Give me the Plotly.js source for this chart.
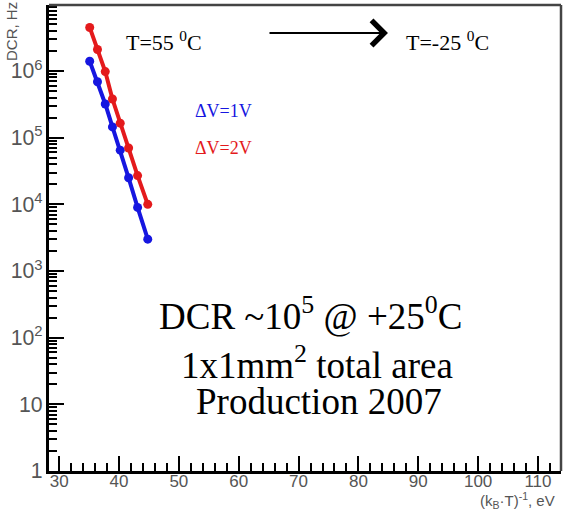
<!DOCTYPE html>
<html><head><meta charset="utf-8">
<script src="https://cdn.plot.ly/plotly-3.0.1.min.js"></script>
<style>html,body{margin:0;padding:0;background:#fff}</style>
</head><body>
<div id="chart" style="width:568px;height:520px"></div>
<script>
// Data
const invKT = [35.1, 36.4, 37.7, 38.9, 40.2, 41.6, 43.1, 44.8];        // (kB*T)^-1, eV
const dcr1V = [1.4e6, 6.9e5, 3.2e5, 1.45e5, 6.5e4, 2.5e4, 9.0e3, 3.0e3]; // dV = 1V, Hz
const dcr2V = [4.5e6, 2.1e6, 9.8e5, 3.8e5, 1.65e5, 7.0e4, 2.7e4, 1.0e4]; // dV = 2V, Hz
const seriesNames = ['ΔV=1V', 'ΔV=2V'];

const L = 49, R = 561, T = 5, B = 471;
const PX = p => (p - L) / (R - L);
const PY = p => (B - p) / (B - T);

const tickFont = {family: '"Liberation Sans Narrow", "Liberation Sans", Arial, sans-serif', size: 17, color: '#555'};
const serif = '"Liberation Serif", "Times New Roman", serif';
const blue = '#1616e0', red = '#e41a1c';

const traces = [
  {x: invKT, y: dcr1V, name: seriesNames[0], mode: 'lines+markers', type: 'scatter',
   line: {color: blue, width: 4}, marker: {color: blue, size: 9}},
  {x: invKT, y: dcr2V, name: seriesNames[1], mode: 'lines+markers', type: 'scatter',
   line: {color: red, width: 4}, marker: {color: red, size: 9}}
];

const layout = {
  width: 568, height: 520,
  margin: {l: L, r: 568 - R, t: T, b: 520 - B, pad: 0},
  paper_bgcolor: '#fff', plot_bgcolor: '#fff',
  showlegend: false,
  xaxis: {
    range: [28.3, 113.85], tick0: 30, dtick: 10,
    showgrid: false, zeroline: false,
    showline: true, linecolor: '#000', linewidth: 3,
    ticks: 'inside', ticklen: 15, tickwidth: 2, tickcolor: '#000',
    tickfont: tickFont, ticklabelstandoff: -7,
    minor: {dtick: 2, ticks: 'inside', ticklen: 8, tickwidth: 2, tickcolor: '#000', showgrid: false}
  },
  yaxis: {
    type: 'log', range: [0, 6.99], dtick: 1, exponentformat: 'power',
    showgrid: false, zeroline: false,
    showline: true, linecolor: '#000', linewidth: 3,
    ticks: 'inside', ticklen: 15, tickwidth: 2, tickcolor: '#000',
    tickfont: tickFont,
    minor: {dtick: 'D1', ticks: 'inside', ticklen: 8, tickwidth: 2, tickcolor: '#000', showgrid: false}
  },
  shapes: [
    {type: 'line', xref: 'paper', yref: 'paper', x0: 0, x1: 1, y0: 1, y1: 1, line: {color: '#444', width: 2.5}},
    {type: 'line', xref: 'paper', yref: 'paper', x0: 1, x1: 1, y0: 0, y1: 1, line: {color: '#444', width: 2.5}}
  ],
  annotations: [
    {xref: 'paper', yref: 'paper', x: PX(124), y: PY(41), xanchor: 'left', yanchor: 'middle', showarrow: false,
     text: 'T=55 <sup>0</sup>C', font: {family: serif, size: 22, color: '#000'}},
    {xref: 'paper', yref: 'paper', x: PX(404), y: PY(41), xanchor: 'left', yanchor: 'middle', showarrow: false,
     text: 'T=-25 <sup>0</sup>C', font: {family: serif, size: 22, color: '#000'}},
    {xref: 'paper', yref: 'paper', x: PX(388), y: PY(33), ax: -120, ay: 0, text: '', showarrow: true,
     arrowhead: 4, arrowsize: 2.2, arrowwidth: 2.2, arrowcolor: '#000', standoff: 0},
    {xref: 'paper', yref: 'paper', x: PX(193), y: PY(111), xanchor: 'left', yanchor: 'middle', showarrow: false,
     text: seriesNames[0], font: {family: serif, size: 18, color: blue}},
    {xref: 'paper', yref: 'paper', x: PX(193), y: PY(148), xanchor: 'left', yanchor: 'middle', showarrow: false,
     text: seriesNames[1], font: {family: serif, size: 18, color: red}},
    {xref: 'paper', yref: 'paper', x: PX(310), y: PY(313), xanchor: 'center', yanchor: 'middle', showarrow: false,
     text: 'DCR ~10<sup>5</sup> @ +25<sup>0</sup>C', font: {family: serif, size: 37, color: '#000'}},
    {xref: 'paper', yref: 'paper', x: PX(317), y: PY(362), xanchor: 'center', yanchor: 'middle', showarrow: false,
     text: '1x1mm<sup>2</sup> total area', font: {family: serif, size: 37, color: '#000'}},
    {xref: 'paper', yref: 'paper', x: PX(319), y: PY(401), xanchor: 'center', yanchor: 'middle', showarrow: false,
     text: 'Production 2007', font: {family: serif, size: 37, color: '#000'}},
    {xref: 'paper', yref: 'paper', x: PX(557), y: PY(500), xanchor: 'right', yanchor: 'middle', showarrow: false,
     text: '(k<sub>B</sub>·T)<sup>-1</sup>, eV', font: {family: tickFont.family, size: 15, color: '#555'}},
    {xref: 'paper', yref: 'paper', x: PX(12), y: PY(32), xanchor: 'center', yanchor: 'middle', showarrow: false,
     textangle: -90, text: 'DCR, Hz', font: {family: tickFont.family, size: 15, color: '#555'}}
  ]
};

Plotly.newPlot('chart', traces, layout, {displayModeBar: false, staticPlot: true});
</script>
</body></html>
